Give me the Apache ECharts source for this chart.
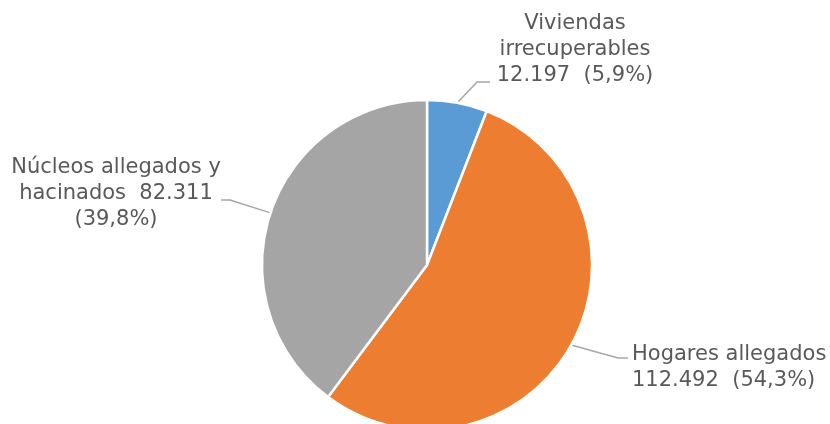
<!DOCTYPE html>
<html>
<head>
<meta charset="utf-8">
<script src="https://cdn.jsdelivr.net/npm/echarts@6/dist/echarts.min.js"></script>
<style>
html,body{margin:0;padding:0;background:#fff;}
#chart{width:830px;height:424px;}
</style>
</head>
<body>
<div id="chart"></div>
<script>
// Data
var categories = ['Viviendas irrecuperables', 'Hogares allegados', 'Núcleos allegados y hacinados'];
var values = [12197, 112492, 82311];
// Label line-break templates ({v} = value, {p} = percent)
var labelTemplates = [
  'Viviendas\nirrecuperables\n{v}  ({p}%)',
  'Hogares allegados\n{v}  ({p}%)',
  'Núcleos allegados y\nhacinados  {v}\n({p}%)'
];
var colors = ['#5B9BD5', '#ED7D31', '#A5A5A5'];

// Label layout (positions of label text blocks, and elbow of leader lines)
var labelPos = [
  {x: 575, y: 50, align: 'center', elbow: [477, 82], end: [490, 82]},
  {x: 632, y: 368, align: 'left', elbow: [618, 358], end: [628, 358]},
  {x: 116, y: 194, align: 'center', elbow: [230, 200], end: [221, 200]}
];

function fmtNum(n) {
  return String(n).replace(/\B(?=(\d{3})+(?!\d))/g, '.');
}
var total = values.reduce(function (a, b) { return a + b; }, 0);

var chart = echarts.init(document.getElementById('chart'), null, {renderer: 'canvas'});
chart.setOption({
  backgroundColor: '#ffffff',
  animation: false,
  series: [{
    type: 'pie',
    center: [427, 265],
    radius: 165,
    startAngle: 90,
    clockwise: true,
    data: categories.map(function (c, i) {
      return {name: c, value: values[i], itemStyle: {color: colors[i]}};
    }),
    itemStyle: {borderColor: '#ffffff', borderWidth: 2.5},
    label: {
      show: true,
      fontFamily: 'DejaVu Sans',
      fontSize: 21,
      lineHeight: 26,
      color: '#595959',
      formatter: function (p) {
        var pct = (p.value / total * 100).toFixed(1).replace('.', ',');
        return labelTemplates[p.dataIndex].replace('{v}', fmtNum(p.value)).replace('{p}', pct);
      }
    },
    labelLine: {
      show: true,
      length: 20,
      length2: 10,
      lineStyle: {color: '#A6A6A6', width: 1.5}
    },
    labelLayout: function (params) {
      var lp = labelPos[params.dataIndex];
      var start = params.labelLinePoints ? params.labelLinePoints[0] : lp.elbow;
      return {
        x: lp.x,
        y: lp.y,
        align: lp.align,
        verticalAlign: 'middle',
        labelLinePoints: [start, lp.elbow, lp.end]
      };
    }
  }]
});
</script>
</body>
</html>
